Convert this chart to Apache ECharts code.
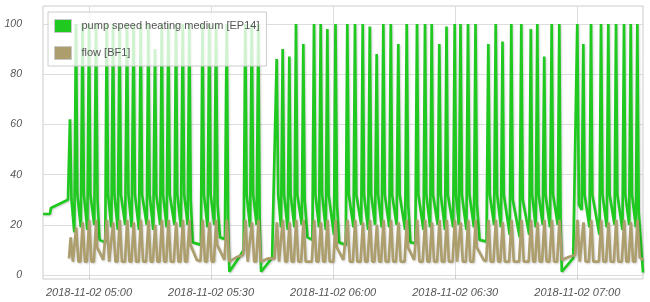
<!DOCTYPE html>
<html><head><meta charset="utf-8">
<script src="https://cdn.jsdelivr.net/npm/echarts@6/dist/echarts.min.js"></script>
<style>html,body{margin:0;padding:0;background:#fff}#c{width:650px;height:302px}</style>
</head><body><div id="c"></div><script>
// x values are minutes relative to 2018-11-02 05:00
const seriesNames = ['pump speed heating medium [EP14]', 'flow [BF1]'];
const xTickMinutes = [0, 30, 60, 90, 120];
const xTickLabels = ['2018-11-02 05:00', '2018-11-02 05:30', '2018-11-02 06:00', '2018-11-02 06:30', '2018-11-02 07:00'];
const yTicks = [0, 20, 40, 60, 80, 100];
const xStart = -11.3, xEnd = 136.15;

const pumpSpeed = [
[-11.3,24.3],[-9.6,24.3],[-9.35,26.7],[-5.16,30],[-4.67,62],[-4.3,30],[-3.6,17],
[-3.2,100],[-2.85,32],[-2.0,19],[-1.6,100],[-1.25,32],[-0.4,18],[0,100],[0.35,32],[1.3,20],
[1.72,100],[2.1,30],[2.6,14],[4.0,13],[4.35,100],[4.7,32],[5.5,19],[5.9,100],[6.25,32],[7.1,18],
[7.5,100],[7.85,32],[8.9,20],[9.34,100],[9.7,32],[10.5,19],[10.94,100],[11.3,32],[12.3,18],
[12.7,100],[13.05,32],[14.2,20],[14.57,100],[14.9,32],[15.8,18],[16.22,90],[16.55,32],[17.5,20],
[17.87,100],[18.2,32],[19.1,19],[19.49,100],[19.85,32],[21.0,20],[21.38,100],[21.7,32],[22.6,19],
[23.03,100],[23.4,32],[24.25,20],[24.65,100],[25.0,30],[25.5,13],[27.5,12],[27.89,100],[28.25,32],
[29.15,19],[29.54,100],[29.9,32],[30.8,20],[31.21,100],[31.6,28],[32.2,15],[33.4,14.3],[33.84,100],
[34.2,20],[34.5,1.3],[36.7,6.6],[38.0,10],[38.41,100],[38.75,32],[39.6,19],[39.99,100],[40.35,32],
[41.2,20],[41.61,100],[41.95,20],[42.3,1.3],[45.0,6.8],[46.13,86],[46.5,32],[47.2,19],[47.6,90],
[47.95,32],[48.85,18],[49.23,87],[49.55,32],[50.5,19],[50.87,100],[51.2,32],[52.3,20],[52.67,92],
[53.0,30],[53.7,15],[54.9,14],[55.3,100],[55.65,32],[56.55,19],[56.94,100],[57.3,32],[58.2,18],
[58.57,98],[58.9,32],[60.2,16],[60.58,100],[60.95,28],[61.5,13],[63.1,12],[63.48,100],[63.85,32],
[65.0,19],[65.37,100],[65.7,32],[66.9,20],[67.27,100],[67.6,32],[68.6,18],[69.01,99],[69.35,32],
[70.3,20],[70.7,88],[71.05,32],[71.95,19],[72.33,100],[72.7,32],[73.8,19],[74.17,100],[74.5,32],
[75.6,20],[76.01,92],[76.35,32],[77.7,18],[78.08,100],[78.45,28],[79.0,13],[80.2,12.7],[80.61,100],
[80.95,32],[82.2,18],[82.58,100],[82.9,32],[83.85,19],[84.22,100],[84.55,32],[85.7,20],[86.09,92],
[86.45,32],[87.5,18],[87.86,99],[88.2,32],[89.5,19],[89.87,100],[90.2,32],[90.9,20],[91.3,100],
[91.65,32],[92.75,18],[93.14,100],[93.5,32],[94.6,19],[94.99,100],[95.35,28],[96.0,14],[97.7,13.3],
[98.13,92],[98.5,32],[99.55,20],[99.95,100],[100.3,32],[101.25,19],[101.62,93],[101.95,32],[103.4,16],
[103.78,100],[104.15,30],[105.85,15],[106.24,100],[106.6,30],[108.2,16],[108.58,98],[108.9,32],
[109.8,19],[110.17,100],[110.5,32],[111.5,20],[111.87,87],[112.2,32],[113.3,19],[113.71,100],
[114.05,32],[115.2,20],[115.58,100],[115.9,20],[116.2,1.3],[119.0,6.7],[120.0,100],[120.4,28],
[121.1,26],[121.48,92],[121.8,32],[123.0,19],[123.37,100],[123.7,32],[125.45,16],[125.83,100],
[126.2,32],[127.25,19],[127.62,100],[127.95,32],[129.15,20],[129.52,100],[129.85,32],[131.1,18],
[131.48,100],[131.8,32],[132.75,20],[133.13,100],[133.45,32],[134.4,19],[134.75,100],[135.1,25],[136.15,1]
];

const flow = [
[-4.9,6.6],[-4.5,15],[-3.95,5.3],[-3.7,5.3],[-3.15,19],[-2.6,5.3],[-2.1,5.3],[-1.55,21],[-1.0,5.3],
[-0.5,5.3],[0.05,22],[0.6,5.3],[1.2,5.3],[1.77,22],[2.0,11],[3.5,6],[3.85,5.5],[4.4,22],[4.95,5.3],
[5.4,5.3],[5.95,21],[6.5,5.3],[7.0,5.3],[7.55,22],[8.1,5.3],[8.85,5.3],[9.39,22],[9.95,5.3],[10.45,5.3],
[10.99,21],[11.55,5.3],[12.2,5.3],[12.75,22],[13.3,5.3],[14.05,5.3],[14.62,22],[15.15,5.3],[15.7,5.3],
[16.27,20],[16.8,5.3],[17.35,5.3],[17.92,22],[18.45,5.3],[19.0,5.3],[19.54,22],[20.1,5.3],[20.85,5.3],
[21.43,21],[22.0,5.3],[22.5,5.3],[23.08,22],[23.6,5.3],[24.1,5.3],[24.7,22],[24.95,12],[26.5,6],
[27.4,5.5],[27.94,22],[28.5,5.3],[29.0,5.3],[29.59,21],[30.15,5.3],[30.7,5.3],[31.26,22],[31.5,12],
[33.3,6],[33.89,22],[34.45,5.3],[36.5,7.3],[37.9,8],[38.46,22],[39.0,5.3],[39.45,5.3],[40.04,21],
[40.6,5.3],[41.1,5.3],[41.66,22],[42.2,5.3],[44.0,6.6],[45.6,6.5],[46.18,21],[46.7,5.3],[47.1,5.3],
[47.65,22],[48.2,5.3],[48.7,5.3],[49.28,21],[49.8,5.3],[50.35,5.3],[50.92,22],[51.45,5.3],[52.15,5.3],
[52.72,22],[53.25,5.3],[54.75,5.3],[55.35,22],[55.9,5.3],[56.4,5.3],[56.99,21],[57.55,5.3],[58.05,5.3],
[58.62,22],[59.15,5.3],[60.05,5.3],[60.63,22],[60.9,11],[62.5,6],[62.95,5.5],[63.53,22],[64.1,5.3],
[64.85,5.3],[65.42,22],[65.95,5.3],[66.75,5.3],[67.32,21],[67.85,5.3],[68.45,5.3],[69.06,22],[69.6,5.3],
[70.15,5.3],[70.75,20],[71.3,5.3],[71.8,5.3],[72.38,22],[72.9,5.3],[73.65,5.3],[74.22,22],[74.75,5.3],
[75.45,5.3],[76.06,21],[76.6,5.3],[77.55,5.3],[78.13,22],[78.4,11],[79.9,6],[80.05,5.6],[80.66,22],
[81.2,5.3],[82.0,5.3],[82.63,22],[83.15,5.3],[83.7,5.3],[84.27,21],[84.8,5.3],[85.55,5.3],[86.14,22],
[86.7,5.3],[87.35,5.3],[87.91,22],[88.45,5.3],[89.35,5.3],[89.92,22],[90.45,5.3],[90.75,5.3],[91.35,21],
[91.85,5.3],[92.6,5.3],[93.19,22],[93.7,5.3],[94.45,5.3],[95.04,22],[95.3,11],[97.0,6],[97.6,5.5],
[98.18,22],[98.7,5.3],[99.4,5.3],[100.0,22],[100.55,5.3],[101.1,5.3],[101.67,21],[102.2,5.3],[103.25,5.3],
[103.83,22],[104.4,5.3],[105.7,5.3],[106.29,22],[106.85,5.3],[108.05,5.3],[108.63,22],[109.15,5.3],
[109.65,5.3],[110.22,21],[110.75,5.3],[111.35,5.3],[111.92,22],[112.45,5.3],[113.15,5.3],[113.76,22],
[114.3,5.3],[115.05,5.3],[115.63,22],[116.2,6],[118.0,7.3],[119.5,8],[120.05,22],[120.6,5.3],[120.95,5.3],
[121.53,21],[122.05,5.3],[122.85,5.3],[123.42,22],[123.95,5.3],[125.3,5.3],[125.88,22],[126.4,5.3],
[127.1,5.3],[127.67,21],[128.2,5.3],[129.0,5.3],[129.57,22],[130.1,5.3],[130.95,5.3],[131.53,22],
[132.05,5.3],[132.6,5.3],[133.18,21],[133.7,5.3],[134.25,5.3],[134.8,22],[135.35,7],[136.15,6]
];

const green = '#20c920', tan = '#ad9e6e';
const chart = echarts.init(document.getElementById('c'), null, {renderer: 'canvas'});
chart.setOption({
  animation: false,
  backgroundColor: '#fff',
  grid: {left: 43, right: 7, top: 6, bottom: 23, show: true, borderColor: '#ccc', borderWidth: 1, backgroundColor: 'transparent'},
  legend: {
    orient: 'vertical', left: 48, top: 12, padding: [7, 7, 6, 6],
    itemWidth: 17, itemHeight: 13, itemGap: 13, icon: 'rect',
    backgroundColor: 'rgba(255,255,255,0.78)', borderColor: '#ccc', borderWidth: 1,
    itemStyle: {borderColor: '#c8c8c8', borderWidth: 1},
    textStyle: {color: '#555', fontSize: 11, fontFamily: 'Liberation Sans', padding: [0, 0, 0, 5]},
    data: seriesNames
  },
  xAxis: {
    type: 'value', min: xStart, max: xEnd,
    axisLine: {show: false},
    axisTick: {show: true, length: 4, lineStyle: {color: '#ccc'}, customValues: xTickMinutes},
    splitLine: {show: true, lineStyle: {color: '#ddd'}},
    axisLabel: {
      customValues: xTickMinutes, margin: 8,
      formatter: v => xTickLabels[xTickMinutes.indexOf(v)] || '',
      color: '#555', fontSize: 11, fontStyle: 'italic', fontFamily: 'Liberation Sans'
    }
  },
  yAxis: {
    type: 'value', min: -1.59, max: 107.17,
    axisLine: {show: false},
    axisTick: {show: false, customValues: yTicks},
    splitLine: {show: true, lineStyle: {color: '#ddd'}},
    axisLabel: {
      customValues: yTicks, margin: 21, align: 'right',
      color: '#555', fontSize: 10.5, fontStyle: 'italic', fontFamily: 'Liberation Sans'
    }
  },
  series: [
    {name: seriesNames[0], type: 'line', data: pumpSpeed, symbol: 'none', z: 2,
     lineStyle: {color: green, width: 2.7, shadowColor: 'rgba(0,0,0,0.18)', shadowBlur: 2, shadowOffsetX: 1, shadowOffsetY: 1},
     itemStyle: {color: green}},
    {name: seriesNames[1], type: 'line', data: flow, symbol: 'none', z: 3,
     lineStyle: {color: tan, width: 2.7, shadowColor: 'rgba(0,0,0,0.18)', shadowBlur: 2, shadowOffsetX: 1, shadowOffsetY: 1},
     itemStyle: {color: tan}}
  ]
});
</script></body></html>
